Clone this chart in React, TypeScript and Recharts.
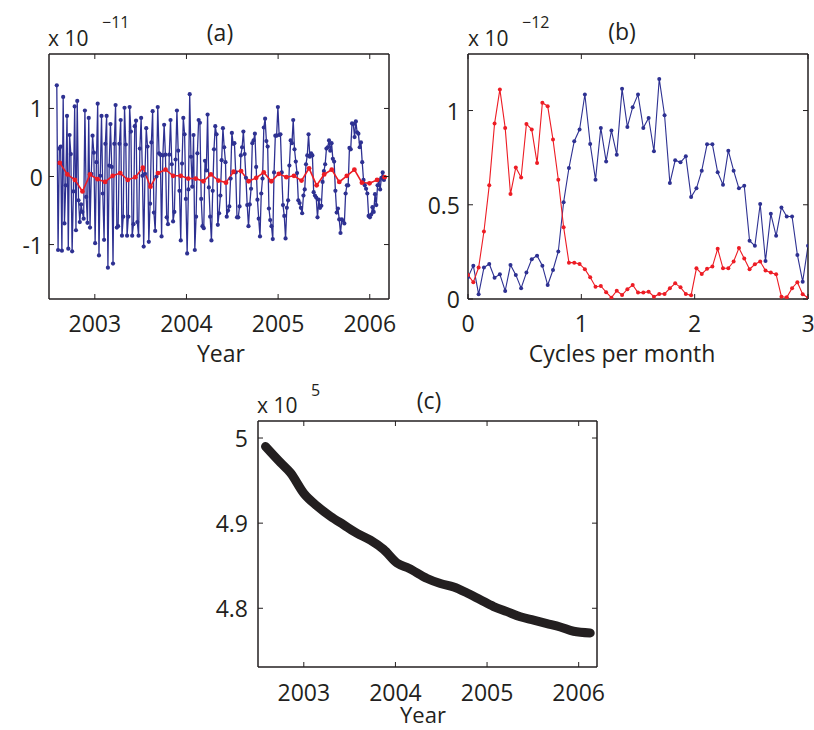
import React from 'react';
import { LineChart, Line, XAxis, YAxis } from 'recharts';

const FONT = '"Open Sans", "Noto Sans", sans-serif';
const INK = '#231f20';
const BLUE = '#2e3192';
const RED = '#ed1c24';

// ---------- Panel (a): time series, units of 1e-11 ----------
const yearTicks = [2003, 2004, 2005, 2006];
const aYTicks = [-1, 0, 1];
const aBlueStart = 2002.585;
const aBlueEnd = 2006.155;
const aBlue = [
  1.34, -1.08, 0.41, 0.44, -1.09, 1.17, -0.69, -0.13, 0.89, -1.06, 0.61, 0.33, -1.10, -0.22, 1.03, -0.79,
  1.11, -0.35, -0.67, -0.41, -0.52, -0.62, 0.97, -0.30, -0.68, 0.86, -0.75, 0.04, 0.60, 0.35, -0.98, 0.21,
  1.07, -1.16, 0.01, 0.89, -0.25, -0.93, 0.48, 0.89, -1.34, 0.16, 0.77, 0.14, -1.28, 0.48, 1.05, -0.75,
  -0.73, 0.48, 0.83, -0.87, -0.59, 1.01, 0.47, -0.87, -0.59, 1.02, 0.66, -0.87, -0.70, 0.74, 0.82,
  -0.67, -0.87, 0.41, 0.86, 0.01, -1.03, 0.04, 0.71, 0.44, -0.96, -0.40, 0.50, 0.96, -0.53, -0.80, 0.00,
  1.02, 0.34, 0.32, -0.88, 0.31, 0.76, 0.32, -0.60, -0.70, 0.32, 0.83, 0.18, -0.66, -0.52, 0.25, 0.97,
  0.38, -0.21, -0.94, 0.19, 0.86, 0.62, -0.33, -1.13, -0.19, 1.21, 0.29, -0.15, 0.61, -1.08, -0.59, 0.34,
  0.83, 0.79, -0.33, -0.73, -0.76, 0.23, 0.09, 0.91, -0.16, -0.59, -0.94, -0.21, 0.40, 0.74, 0.62, -0.71,
  -0.54, -0.28, 0.24,
  0.71, 0.43, 0.21, -0.59, -0.50, -0.44, -0.03, 0.64, 0.48, 0.49, 0.06, -0.60, -0.60, -0.44, 0.31, 0.43,
  0.66, 0.33, -0.02, -0.42, -0.73, -0.41, -0.18, 0.49, 0.53, 0.63, 0.14, -0.34, -0.62, -0.88, -0.25, -0.03,
  0.72, 0.85, 0.52, 0.44, -0.47, -0.64, -0.73, -0.92, 0.06, 0.60, 0.60, 1.02, 0.61, 0.62, 0.06, -0.42,
  -0.58, -0.91, -0.46, -0.35, 0.16, 0.53, 0.49, 0.83, 0.40, 0.22, 0.05, -0.35, -0.39, -0.46, -0.54, -0.28,
  -0.19, 0.18,
  0.31, 0.62, 0.29, 0.34, 0.31, -0.23, -0.28, -0.31, -0.60, -0.34, -0.46, -0.43, -0.08, 0.08, 0.18, 0.41,
  0.43, 0.53, 0.38, 0.49, 0.26, 0.22, -0.21, -0.53, -0.47, -0.63, -0.83, -0.63, -0.65, -0.69, -0.25, -0.13,
  -0.13, 0.42, 0.40, 0.78, 0.77, 0.58, 0.81, 0.65, 0.63, 0.43, 0.50, 0.21, -0.05, -0.13, -0.18, -0.25,
  -0.58, -0.60, -0.56, -0.45, -0.52, -0.26, -0.42, -0.13, -0.06, -0.19, -0.02, 0.06, -0.05,
];
const aRedStart = 2002.618;
const aRedEnd = 2006.162;
const aRed = [
  0.20, 0.03, -0.05, -0.22, 0.03, -0.04, -0.08, 0.01, 0.05, -0.05, -0.01,
  0.13, -0.15, 0.05, 0.10, 0.01, 0.01, -0.03, -0.03, -0.07, 0.03, -0.06,
  -0.09, 0.07, 0.08, -0.07, -0.02, 0.06, -0.07, 0.04, -0.01, 0.01, -0.06,
  0.12, -0.13, 0.03, 0.10, -0.08, 0.01, 0.10, -0.09, -0.10, -0.05, -0.01,
];

// ---------- Panel (b): spectra, units of 1e-12, cycles per month ----------
const bFreqMax = 3;
const bXTicks = [0, 1, 2, 3];
const bYTicks = [0, 0.5, 1];
const bBlue = [
  0.115, 0.177, 0.025, 0.167, 0.186, 0.113, 0.131, 0.043, 0.181, 0.128, 0.057, 0.140, 0.211, 0.230, 0.177, 0.074,
  0.154, 0.252, 0.514, 0.695, 0.837, 0.899, 1.085, 0.823, 0.633, 0.908, 0.730, 0.894, 0.766, 1.115, 0.913, 1.018,
  1.085, 0.908, 0.961, 0.784, 1.168, 0.975, 0.615, 0.736, 0.725, 0.757, 0.541, 0.587, 0.681, 0.821, 0.821, 0.672,
  0.606, 0.787, 0.681, 0.587, 0.601, 0.309, 0.282, 0.504, 0.202, 0.452, 0.335, 0.486, 0.438, 0.438, 0.234, 0.092,
  0.282,
];
const bRed = [
  0.128, 0.089, 0.167, 0.358, 0.603, 0.931, 1.112, 0.908, 0.557, 0.698, 0.645, 0.929, 0.899, 0.722, 1.041, 1.023,
  0.846, 0.633, 0.381, 0.193, 0.193, 0.186, 0.158, 0.115, 0.065, 0.069, 0.036, 0.007, 0.044, 0.021, 0.052, 0.074,
  0.034, 0.034, 0.039, 0.012, 0.027, 0.027, 0.057, 0.083, 0.062, 0.027, 0.020, 0.163, 0.133, 0.160, 0.172, 0.266,
  0.163, 0.163, 0.199, 0.270, 0.215, 0.158, 0.184, 0.199, 0.151, 0.140, 0.131, 0.012, 0.009, 0.057, 0.089, 0.025,
  0.007,
];

// ---------- Panel (c): units of 1e5 ----------
const cYears = [
  2002.582, 2002.746, 2002.855, 2003.0, 2003.146, 2003.291, 2003.436, 2003.582, 2003.727, 2003.872,
  2004.019, 2004.145, 2004.346, 2004.491, 2004.636, 2004.782, 2004.927, 2005.072, 2005.218, 2005.363,
  2005.508, 2005.654, 2005.799, 2005.944, 2006.126,
];
const cValues = [
  4.990, 4.971, 4.959, 4.935, 4.920, 4.908, 4.898, 4.888, 4.880, 4.869,
  4.853, 4.847, 4.835, 4.829, 4.825, 4.818, 4.810, 4.802, 4.796, 4.790,
  4.786, 4.782, 4.778, 4.773, 4.771,
];
const cYTicks = [4.8, 4.9, 5];

// ---------- helpers ----------
const onGrid = (vals: number[], start: number, end: number) =>
  vals.map((v, i) => ({ x: start + (i * (end - start)) / (vals.length - 1), y: v }));

const aBlueData = onGrid(aBlue, aBlueStart, aBlueEnd);
const aRedData = onGrid(aRed, aRedStart, aRedEnd);
const bBlueData = onGrid(bBlue, 0, bFreqMax);
const bRedData = onGrid(bRed, 0, bFreqMax);
const cData = cYears.map((x, i) => ({ x, y: cValues[i] }));

const TICK_LEN = 5;
const FS = 23;

const bottomTick = (gap: number, fmt: (v: number) => string) => (p: any) => {
  const base = p.y - gap;
  return (
    <g>
      <line x1={p.x} x2={p.x} y1={base} y2={base - TICK_LEN} stroke={INK} strokeWidth={1} />
      <text x={p.x} y={p.y} textAnchor="middle" dominantBaseline="central" fontFamily={FONT} fontSize={FS} fill={INK}>
        {fmt(p.payload.value)}
      </text>
    </g>
  );
};
const topTick = (p: any) => (
  <line x1={p.x} x2={p.x} y1={p.y} y2={p.y + TICK_LEN} stroke={INK} strokeWidth={1} />
);
const leftTick = (gap: number, fmt: (v: number) => string) => (p: any) => {
  const base = p.x + gap;
  return (
    <g>
      <line x1={base} x2={base + TICK_LEN} y1={p.y} y2={p.y} stroke={INK} strokeWidth={1} />
      <text x={p.x} y={p.y} textAnchor="end" dominantBaseline="central" fontFamily={FONT} fontSize={FS} fill={INK}>
        {fmt(p.payload.value)}
      </text>
    </g>
  );
};
const rightTick = (p: any) => (
  <line x1={p.x} x2={p.x - TICK_LEN} y1={p.y} y2={p.y} stroke={INK} strokeWidth={1} />
);

const axisLine = { stroke: INK, strokeWidth: 1.5 };

function frame(
  xDomain: number[],
  yDomain: number[],
  xTicks: number[],
  yTicks: number[],
  xGap: number,
  yGap: number,
  fx: (v: number) => string,
  fy: (v: number) => string
) {
  return [
    <XAxis key="xb" xAxisId="b" type="number" dataKey="x" domain={xDomain} ticks={xTicks} allowDataOverflow
      orientation="bottom" height={1} tickSize={0} tickMargin={xGap} interval={0} axisLine={axisLine}
      tickLine={false} tick={bottomTick(xGap, fx)} />,
    <XAxis key="xt" xAxisId="t" type="number" dataKey="x" domain={xDomain} ticks={xTicks} allowDataOverflow
      orientation="top" height={1} tickSize={0} tickMargin={0} interval={0} axisLine={axisLine}
      tickLine={false} tick={topTick} />,
    <YAxis key="yl" yAxisId="l" type="number" dataKey="y" domain={yDomain} ticks={yTicks} allowDataOverflow
      orientation="left" width={1} tickSize={0} tickMargin={yGap} interval={0} axisLine={axisLine}
      tickLine={false} tick={leftTick(yGap, fy)} />,
    <YAxis key="yr" yAxisId="r" type="number" dataKey="y" domain={yDomain} ticks={yTicks} allowDataOverflow
      orientation="right" width={1} tickSize={0} tickMargin={0} interval={0} axisLine={axisLine}
      tickLine={false} tick={rightTick} />,
  ];
}

const Txt = ({ x, y, size = FS, anchor = 'middle', children }: any) => (
  <div
    style={{
      position: 'absolute',
      left: x,
      top: y,
      transform: `translate(${anchor === 'middle' ? '-50%' : '0'}, -50%)`,
      fontFamily: FONT,
      fontSize: size,
      lineHeight: 1,
      whiteSpace: 'nowrap',
      color: INK,
    }}
  >
    {children}
  </div>
);

const fmtInt = (v: number) => String(v);

export default function App() {
  return (
    <div style={{ position: 'absolute', left: 0, top: 0, width: 814, height: 730, background: '#fff', overflow: 'hidden' }}>
      {/* Panel (a) */}
      <div style={{ position: 'absolute', left: 0, top: 0 }}>
        <LineChart width={410} height={370} margin={{ top: 53, left: 48, right: 20, bottom: 70 }}>
          {frame([2002.5, 2006.21], [-1.8, 1.8], yearTicks, aYTicks, 24, 6, fmtInt, fmtInt)}
          <Line xAxisId="b" yAxisId="l" data={aBlueData} dataKey="y" type="linear" stroke={BLUE} strokeWidth={1.3}
            dot={{ r: 2.1, fill: BLUE, stroke: BLUE, strokeWidth: 0 }} isAnimationActive={false} />
          <Line xAxisId="b" yAxisId="l" data={aRedData} dataKey="y" type="linear" stroke={RED} strokeWidth={1.6}
            dot={{ r: 2.4, fill: RED, stroke: RED, strokeWidth: 0 }} isAnimationActive={false} />
        </LineChart>
      </div>
      {/* Panel (b) */}
      <div style={{ position: 'absolute', left: 410, top: 0 }}>
        <LineChart width={404} height={370} margin={{ top: 53, left: 57, right: 5, bottom: 70 }}>
          {frame([0, 3], [0, 1.3], bXTicks, bYTicks, 24, 8, fmtInt, fmtInt)}
          <Line xAxisId="b" yAxisId="l" data={bBlueData} dataKey="y" type="linear" stroke={BLUE} strokeWidth={1.1}
            dot={{ r: 2, fill: BLUE, stroke: BLUE, strokeWidth: 0 }} isAnimationActive={false} />
          <Line xAxisId="b" yAxisId="l" data={bRedData} dataKey="y" type="linear" stroke={RED} strokeWidth={1.1}
            dot={{ r: 2, fill: RED, stroke: RED, strokeWidth: 0 }} isAnimationActive={false} />
        </LineChart>
      </div>
      {/* Panel (c) */}
      <div style={{ position: 'absolute', left: 190, top: 370 }}>
        <LineChart width={430} height={360} margin={{ top: 50, left: 67, right: 22, bottom: 62 }}>
          {frame([2002.5, 2006.2], [4.731, 5.02], yearTicks, cYTicks, 25, 10, fmtInt, fmtInt)}
          <Line xAxisId="b" yAxisId="l" data={cData} dataKey="y" type="monotone" stroke={INK} strokeWidth={9}
            strokeLinecap="round" strokeLinejoin="round" dot={false} isAnimationActive={false} />
        </LineChart>
      </div>

      {/* texts (a) */}
      <Txt x={48} y={38} size={21} anchor="start">x 10</Txt>
      <Txt x={102} y={22} size={16} anchor="start">−11</Txt>
      <Txt x={220} y={32}>(a)</Txt>
      <Txt x={221} y={353}>Year</Txt>
      {/* texts (b) */}
      <Txt x={468} y={38} size={21} anchor="start">x 10</Txt>
      <Txt x={522} y={22} size={16} anchor="start">−12</Txt>
      <Txt x={622} y={31}>(b)</Txt>
      <Txt x={622} y={353}>Cycles per month</Txt>
      {/* texts (c) */}
      <Txt x={257} y={405} size={21} anchor="start">x 10</Txt>
      <Txt x={311} y={390} size={16} anchor="start">5</Txt>
      <Txt x={429} y={400}>(c)</Txt>
      <Txt x={423} y={714} size={22}>Year</Txt>
    </div>
  );
}
